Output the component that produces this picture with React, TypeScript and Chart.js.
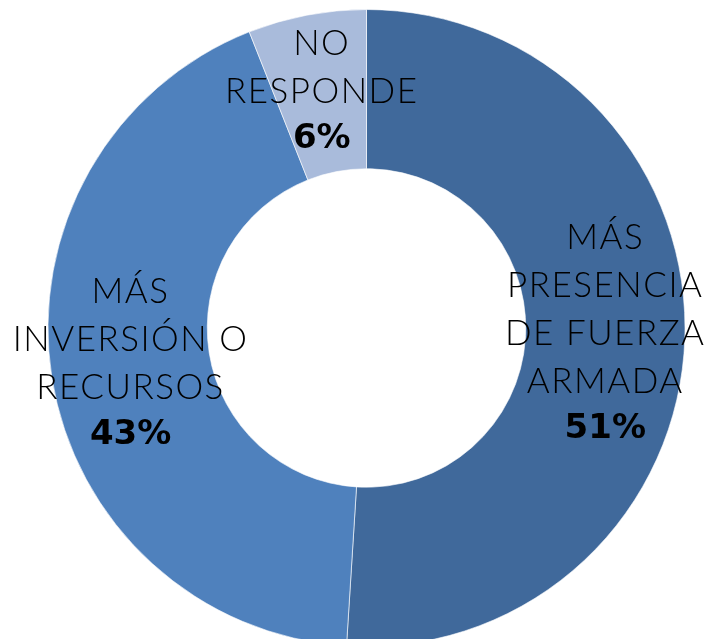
import React, { useEffect, useRef } from "react";
import { Chart, registerables } from "chart.js";

Chart.register(...registerables);

const categories = ["MÁS PRESENCIA DE FUERZA ARMADA", "MÁS INVERSIÓN O RECURSOS", "NO RESPONDE"];
const labelLines = [
  ["MÁS", "PRESENCIA", "DE FUERZA", "ARMADA"],
  ["MÁS", "INVERSIÓN O", "RECURSOS"],
  ["NO", "RESPONDE"],
];
const values = [51, 43, 6];
const percentLabels = ["51%", "43%", "6%"];
const colors = ["#40699B", "#4F81BD", "#A9BBDB"];

const labelPlugin = {
  id: "sliceLabels",
  afterDatasetsDraw(chart: any) {
    const ctx = chart.ctx;
    const meta = chart.getDatasetMeta(0);
    const lineH = 48;
    meta.data.forEach((arc: any, i: number) => {
      const p = arc.tooltipPosition();
      const lines = [...labelLines[i], percentLabels[i]];
      const n = lines.length;
      const startY = p.y - ((n - 1) * lineH) / 2 - 2;
      ctx.save();
      ctx.textAlign = "center";
      ctx.textBaseline = "middle";
      ctx.fillStyle = "#000";
      lines.forEach((t, j) => {
        const bold = j === n - 1;
        if (bold) {
          ctx.letterSpacing = "0px";
          ctx.font = "bold 34px 'DejaVu Sans', sans-serif";
        } else {
          ctx.letterSpacing = "1.5px";
          ctx.font = "300 35px Lato, 'DejaVu Sans', sans-serif";
        }
        ctx.fillText(t, p.x, startY + j * lineH);
      });
      ctx.restore();
    });
  },
};

export default function App() {
  const ref = useRef<HTMLCanvasElement>(null);
  useEffect(() => {
    if (!ref.current) return;
    const chart = new Chart(ref.current, {
      type: "doughnut",
      data: {
        labels: categories,
        datasets: [
          {
            data: values,
            backgroundColor: colors,
            borderColor: "rgba(255,255,255,0.6)",
            borderWidth: 1,
          },
        ],
      },
      options: {
        animation: false,
        responsive: true,
        maintainAspectRatio: false,
        cutout: "50%",
        layout: { padding: 9 },
        plugins: {
          legend: { display: false },
          tooltip: { enabled: false },
        },
      },
      plugins: [labelPlugin],
    });
    return () => chart.destroy();
  }, []);
  return (
    <div style={{ position: "fixed", inset: 0, overflow: "hidden", background: "#fff" }}>
      <div style={{ position: "absolute", left: 0, top: 0, width: 733, height: 656 }}>
        <canvas ref={ref} />
      </div>
    </div>
  );
}
